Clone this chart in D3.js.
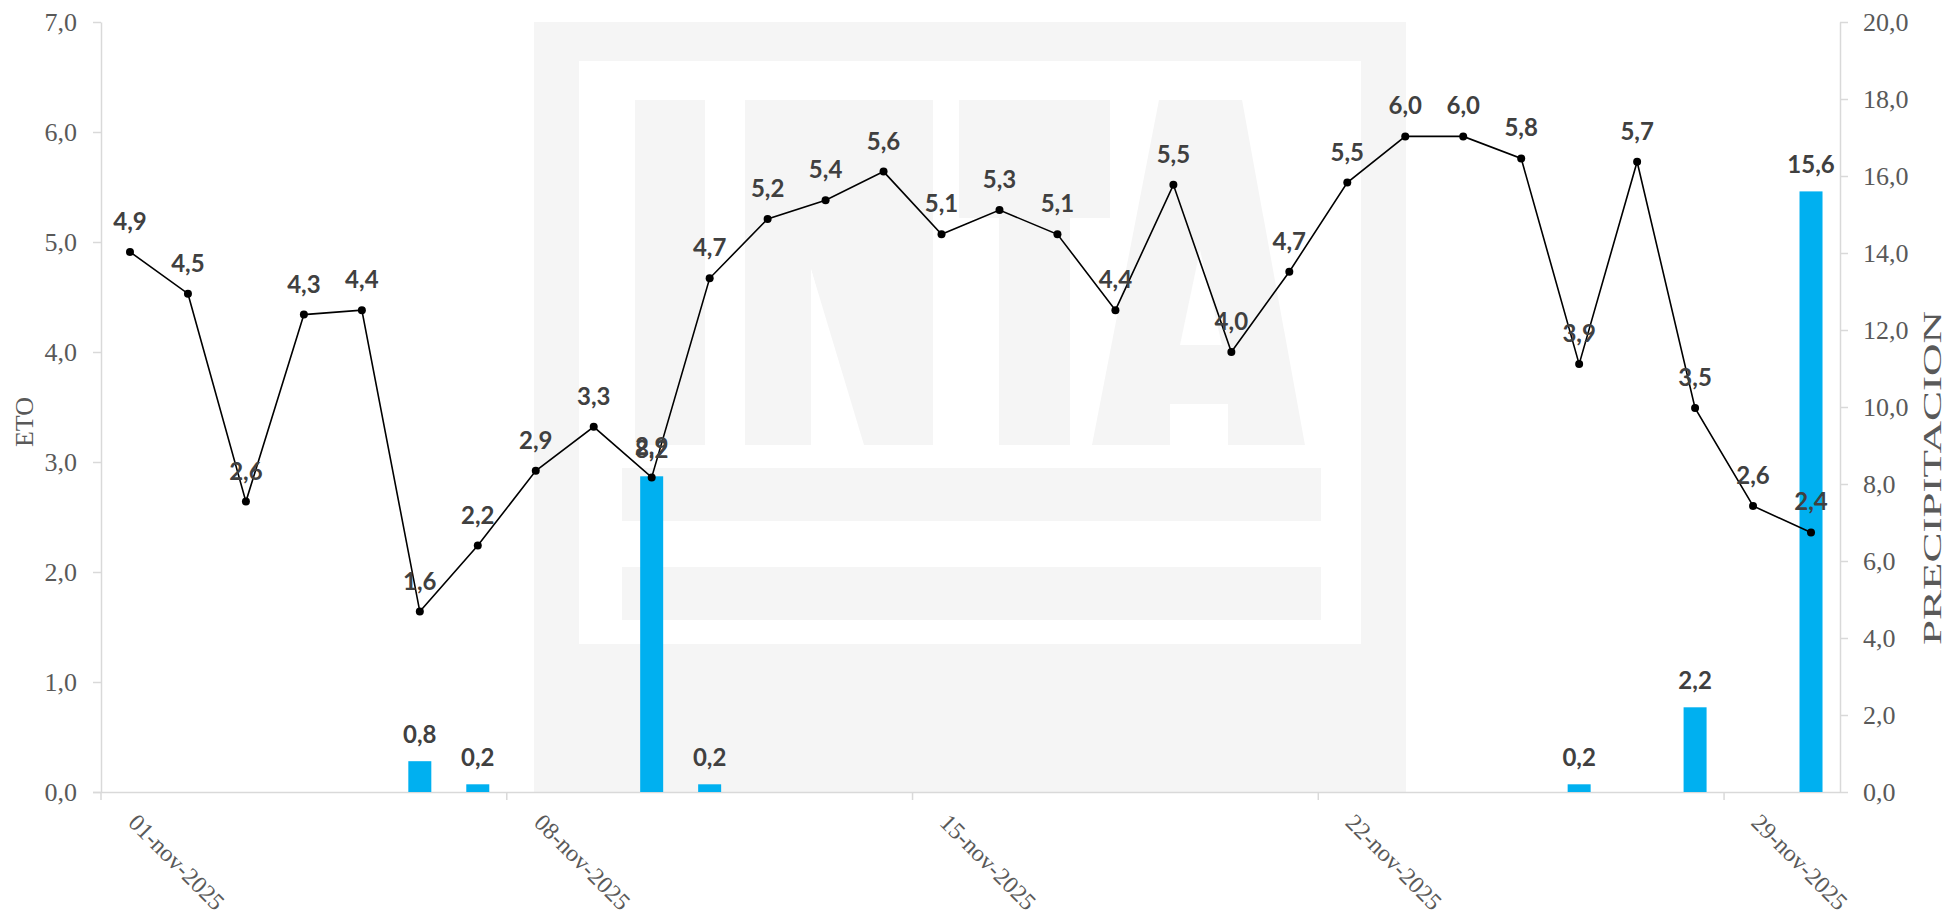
<!DOCTYPE html>
<html>
<head>
<meta charset="utf-8">
<script src="https://cdn.jsdelivr.net/npm/d3@7"></script>
<style>
  html, body { margin: 0; padding: 0; background: #ffffff; overflow: hidden; }
  svg { display: block; }
</style>
</head>
<body>
<script>
// ---- DATA ----
const days = [
  "01-nov-2025","02-nov-2025","03-nov-2025","04-nov-2025","05-nov-2025","06-nov-2025",
  "07-nov-2025","08-nov-2025","09-nov-2025","10-nov-2025","11-nov-2025","12-nov-2025",
  "13-nov-2025","14-nov-2025","15-nov-2025","16-nov-2025","17-nov-2025","18-nov-2025",
  "19-nov-2025","20-nov-2025","21-nov-2025","22-nov-2025","23-nov-2025","24-nov-2025",
  "25-nov-2025","26-nov-2025","27-nov-2025","28-nov-2025","29-nov-2025","30-nov-2025"
];
const eto = [
  4.91, 4.53, 2.64, 4.34, 4.38, 1.64, 2.24, 2.92, 3.32, 2.86,
  4.67, 5.21, 5.38, 5.64, 5.07, 5.29, 5.07, 4.38, 5.52, 4.00,
  4.73, 5.54, 5.96, 5.96, 5.76, 3.89, 5.73, 3.49, 2.60, 2.36
];
const precipitacion = [
  0, 0, 0, 0, 0, 0.8, 0.2, 0, 0, 8.2,
  0.2, 0, 0, 0, 0, 0, 0, 0, 0, 0,
  0, 0, 0, 0, 0, 0.2, 0, 2.2, 0, 15.6
];
const etoTicks = [0, 1, 2, 3, 4, 5, 6, 7];
const precipTicks = [0, 2, 4, 6, 8, 10, 12, 14, 16, 18, 20];
const dateTicks = ["01-nov-2025", "08-nov-2025", "15-nov-2025", "22-nov-2025", "29-nov-2025"];
const leftTitle = "ETO";
const rightTitle = "PRECIPITACION";

// ---- LAYOUT ----
const W = 1946, H = 920;
const plot = { left: 101, right: 1840, top: 22, bottom: 792 };
const fmt = v => v.toFixed(1).replace(".", ",");
const axisColor = "#d9d9d9";
const textColor = "#595959";
const labelColor = "#404040";
const serif = "'Liberation Serif', 'Times New Roman', serif";
const labelFont = "Lato, 'Open Sans', sans-serif";

const svg = d3.select("body").append("svg").attr("width", W).attr("height", H);

const x = d3.scaleBand().domain(days).range([plot.left, plot.right]).padding(0);
const yL = d3.scaleLinear().domain([0, 7]).range([plot.bottom, plot.top]);
const yR = d3.scaleLinear().domain([0, 20]).range([plot.bottom, plot.top]);
const bw = x.bandwidth();
const cx = d => x(d) + bw / 2;

// ---- WATERMARK (INTA logo, decorative) ----
const wm = svg.append("g").attr("fill", "#f5f5f5");
wm.append("rect").attr("x", 534).attr("y", plot.top).attr("width", 1406 - 534).attr("height", plot.bottom - plot.top);
wm.append("rect").attr("x", 579).attr("y", 61).attr("width", 1361 - 579).attr("height", 644 - 61).attr("fill", "#ffffff");
// I
wm.append("rect").attr("x", 635).attr("y", 100).attr("width", 70).attr("height", 345);
// N
wm.append("path").attr("d", "M745,100 H933 V445 H864 L811,269 V445 H745 Z");
wm.append("path").attr("d", "M811,269 L860,445 H811 Z").attr("fill", "#ffffff");
// T
wm.append("path").attr("d", "M959,100 H1110 V218 H1070 V445 H999 V218 H959 Z");
// A
wm.append("path").attr("d", "M1159,100 H1242 L1305,445 H1228 V404 H1170 V445 H1092 Z");
wm.append("path").attr("d", "M1200,250 L1222,345 H1180 Z").attr("fill", "#ffffff");
// bars
wm.append("rect").attr("x", 622).attr("y", 468).attr("width", 1321 - 622).attr("height", 521 - 468);
wm.append("rect").attr("x", 622).attr("y", 567).attr("width", 1321 - 622).attr("height", 620 - 567);

// ---- AXES ----
const gx = svg.append("g").attr("transform", `translate(0,${plot.bottom})`)
  .call(d3.axisBottom(x).tickValues(dateTicks).tickSize(8).tickSizeOuter(0));
gx.select(".domain").attr("stroke", axisColor).attr("stroke-width", 1.5)
  .attr("d", `M${plot.left - 8},0.5H${plot.right}`);
gx.selectAll(".tick line").attr("stroke", axisColor).attr("stroke-width", 1.5)
  .attr("x1", -bw / 2).attr("x2", -bw / 2);
gx.selectAll(".tick text")
  .attr("font-family", serif).attr("font-size", 24).attr("fill", textColor)
  .attr("text-anchor", "start").attr("dy", null).attr("y", null)
  .attr("transform", "translate(-3,32) rotate(45)");

const gl = svg.append("g").attr("transform", `translate(${plot.left},0)`)
  .call(d3.axisLeft(yL).tickValues(etoTicks).tickFormat(fmt).tickSize(8).tickPadding(16).tickSizeOuter(0));
gl.select(".domain").attr("stroke", axisColor).attr("stroke-width", 1.5);
gl.selectAll(".tick line").attr("stroke", axisColor).attr("stroke-width", 1.5);
gl.selectAll(".tick text").attr("font-family", serif).attr("font-size", 26).attr("fill", textColor);

const gr = svg.append("g").attr("transform", `translate(${plot.right},0)`)
  .call(d3.axisRight(yR).tickValues(precipTicks).tickFormat(fmt).tickSize(8).tickPadding(15).tickSizeOuter(0));
gr.select(".domain").attr("stroke", axisColor).attr("stroke-width", 1.5);
gr.selectAll(".tick line").attr("stroke", axisColor).attr("stroke-width", 1.5);
gr.selectAll(".tick text").attr("font-family", serif).attr("font-size", 26).attr("fill", textColor);

// axis titles
svg.append("text").text(leftTitle)
  .attr("transform", "translate(33,422) rotate(-90)")
  .attr("text-anchor", "middle").attr("font-family", serif).attr("font-size", 26).attr("fill", textColor);
svg.append("text").text(rightTitle)
  .attr("transform", "translate(1941,478) rotate(-90)")
  .attr("text-anchor", "middle").attr("font-family", serif).attr("font-size", 26).attr("fill", textColor)
  .attr("textLength", 334).attr("lengthAdjust", "spacingAndGlyphs");

// ---- BARS (precipitacion, right axis) ----
const barW = 23;
const rainData = days.map((d, i) => ({ d, v: precipitacion[i] })).filter(o => o.v > 0);
svg.append("g").selectAll("rect").data(rainData).join("rect")
  .attr("x", o => cx(o.d) - barW / 2)
  .attr("y", o => yR(o.v))
  .attr("width", barW)
  .attr("height", o => yR(0) - yR(o.v))
  .attr("fill", "#00b0f0");

// ---- LINE (ETO, left axis) ----
const etoData = days.map((d, i) => ({ d, v: eto[i] }));
svg.append("path").datum(etoData)
  .attr("fill", "none").attr("stroke", "#000000").attr("stroke-width", 1.6)
  .attr("d", d3.line().x(o => cx(o.d)).y(o => yL(o.v)));
svg.append("g").selectAll("circle").data(etoData).join("circle")
  .attr("cx", o => cx(o.d)).attr("cy", o => yL(o.v)).attr("r", 4).attr("fill", "#000000");

// ---- DATA LABELS ----
svg.append("g").selectAll("text").data(rainData).join("text")
  .attr("x", o => cx(o.d)).attr("y", o => yR(o.v) - 18)
  .attr("text-anchor", "middle").attr("font-family", labelFont).attr("font-weight", 700)
  .attr("font-size", 24).attr("fill", labelColor)
  .text(o => fmt(o.v));
svg.append("g").selectAll("text").data(etoData).join("text")
  .attr("x", o => cx(o.d)).attr("y", o => yL(o.v) - 22)
  .attr("text-anchor", "middle").attr("font-family", labelFont).attr("font-weight", 700)
  .attr("font-size", 24).attr("fill", labelColor)
  .text(o => fmt(o.v));
</script>
</body>
</html>
